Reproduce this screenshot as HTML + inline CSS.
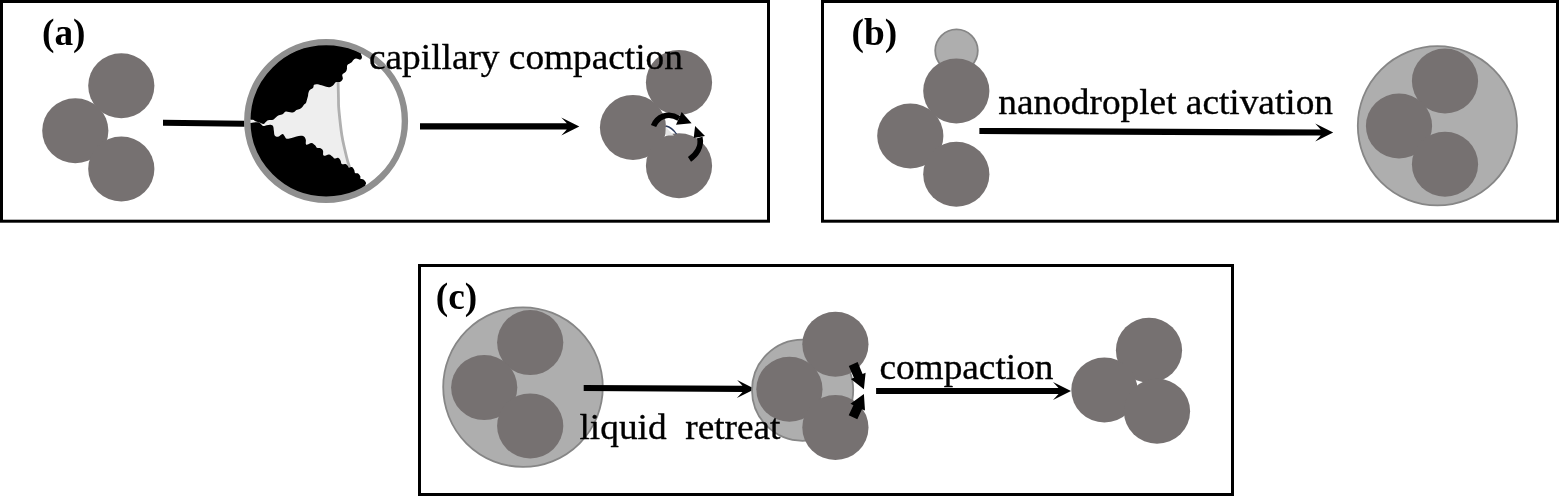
<!DOCTYPE html>
<html><head><meta charset="utf-8"><title>figure</title>
<style>
html,body{margin:0;padding:0;background:#fff;}
body{width:1559px;height:496px;overflow:hidden;font-family:"Liberation Serif",serif;}
svg{display:block;will-change:transform;}
text{font-family:"Liberation Serif",serif;font-size:37.33px;fill:#000;}
.b{font-weight:bold;}
.n text{stroke:#000;stroke-width:0.35px;}
</style></head><body>
<svg width="1559" height="496" viewBox="0 0 1559 496">
<rect width="1559" height="496" fill="#fff"/>
<!-- panel frames -->
<g fill="none" stroke="#000" stroke-width="3">
<rect x="1.5" y="1.5" width="767" height="219.7"/>
<rect x="822.5" y="1.5" width="735" height="219.7"/>
<rect x="419.5" y="265.5" width="813" height="229"/>
</g>

<!-- ===== panel a ===== -->
<g fill="#767171"><ellipse cx="121.3" cy="85.7" rx="33.1" ry="32.5"/><ellipse cx="75.3" cy="130.7" rx="33.1" ry="32.5"/><ellipse cx="121.3" cy="169.0" rx="33.1" ry="32.5"/></g>
<polygon points="163,119.7 244.5,120.8 244.5,126.8 163,125.7" fill="#000"/>
<defs><clipPath id="mag"><circle cx="326.1" cy="120.9" r="76.6"/></clipPath></defs>
<g clip-path="url(#mag)">
<rect x="230" y="20" width="200" height="200" fill="#fff"/>
<path d="M338.0,79.0 C338.0,79.5 338.0,78.2 338.1,82.0 C338.2,85.8 338.4,95.0 338.5,100.0 C338.6,105.0 338.3,103.7 338.9,110.0 C339.5,116.3 340.7,127.9 341.8,135.0 C342.9,142.1 343.7,144.7 344.8,149.5 C345.9,154.3 347.0,158.8 347.8,161.6 C348.6,164.4 348.6,164.0 349.0,165.3 C349.4,166.6 349.8,168.3 350.0,169.0 L352,215 L230,215 L230,30 L338,30 Z" fill="#eeeeee"/>
<path d="M338.0,79.0 C338.0,79.5 338.0,78.2 338.1,82.0 C338.2,85.8 338.4,95.0 338.5,100.0 C338.6,105.0 338.3,103.7 338.9,110.0 C339.5,116.3 340.7,127.9 341.8,135.0 C342.9,142.1 343.7,144.7 344.8,149.5 C345.9,154.3 347.0,158.8 347.8,161.6 C348.6,164.4 348.6,164.0 349.0,165.3 C349.4,166.6 349.8,168.3 350.0,169.0" fill="none" stroke="#b0b0b0" stroke-width="2.8"/>
<path d="M246.0,119.3 C247.2,119.4 251.3,119.5 252.9,119.8 C254.5,120.1 253.8,120.5 254.9,121.0 C256.0,121.5 257.5,121.8 259.0,122.3 C260.5,122.8 262.2,124.0 263.4,123.9 C264.6,123.8 264.9,122.6 265.8,121.9 C266.7,121.2 266.9,120.6 268.2,120.2 C269.5,119.8 271.8,120.2 273.1,119.8 C274.4,119.4 274.6,118.5 275.5,117.8 C276.4,117.1 276.7,116.4 277.9,115.8 C279.1,115.2 280.8,115.1 281.9,114.6 C283.0,114.1 283.3,113.5 284.0,113.0 C284.7,112.5 284.6,111.7 286.0,111.6 C287.4,111.5 290.0,112.6 291.6,112.6 C293.2,112.6 293.9,111.9 294.8,111.4 C295.7,110.9 295.6,110.4 296.5,110.0 C297.4,109.6 298.7,109.5 299.7,109.0 C300.7,108.5 301.4,108.0 302.1,107.3 C302.8,106.6 303.1,105.6 303.7,104.9 C304.3,104.2 305.1,104.1 305.7,103.3 C306.3,102.5 306.4,101.6 306.8,100.3 C307.2,99.0 307.7,97.2 308.0,96.0 C308.3,94.8 308.0,94.5 308.3,93.5 C308.6,92.5 308.7,91.2 309.6,90.2 C310.5,89.2 312.3,88.8 313.1,87.8 C313.9,86.8 313.3,85.4 314.1,84.8 C314.9,84.2 316.0,84.1 317.6,84.3 C319.2,84.5 321.1,85.3 323.2,85.8 C325.3,86.3 327.4,87.4 329.2,87.3 C331.0,87.2 332.0,86.2 333.2,85.3 C334.4,84.4 334.5,82.8 335.8,82.2 C337.1,81.6 339.0,82.3 340.3,81.7 C341.6,81.1 342.4,80.0 342.8,78.7 C343.2,77.4 341.8,76.0 342.3,74.7 C342.8,73.4 345.0,72.7 345.8,71.7 C346.6,70.7 346.6,70.3 346.9,69.1 C347.2,67.9 346.6,66.3 347.4,65.1 C348.2,63.9 350.3,63.5 351.4,62.6 C352.5,61.7 352.6,60.8 353.4,60.1 C354.2,59.4 354.6,58.7 355.9,58.6 C357.2,58.5 359.4,59.9 360.5,59.6 C361.6,59.3 361.9,58.3 362.0,57.1 C362.1,55.9 360.6,54.6 361.0,53.0 C361.4,51.4 363.5,48.9 364.0,48.0 L364,20 L230,20 L230,119.3 Z" fill="#000"/>
<path d="M246.0,123.6 C246.9,123.5 249.1,123.3 250.9,123.1 C252.7,122.9 254.6,122.4 256.1,122.3 C257.6,122.2 258.2,122.0 259.4,122.6 C260.6,123.2 261.7,125.4 263.0,125.9 C264.3,126.4 265.2,125.5 266.6,125.3 C268.0,125.1 269.4,124.5 270.6,124.7 C271.8,124.9 272.5,125.1 273.1,126.3 C273.7,127.5 273.6,129.4 273.9,131.1 C274.2,132.8 274.0,134.6 274.7,135.6 C275.4,136.6 276.7,136.9 277.9,136.8 C279.1,136.7 280.2,135.3 281.1,134.8 C282.0,134.3 282.4,133.9 283.1,134.2 C283.8,134.5 284.1,135.6 284.8,136.4 C285.5,137.2 285.6,138.5 286.8,138.8 C288.0,139.1 289.9,138.4 291.6,138.0 C293.3,137.6 294.8,136.8 296.5,136.4 C298.2,136.0 299.9,135.7 301.3,135.8 C302.7,135.9 303.4,136.1 304.2,136.8 C305.0,137.5 305.4,138.4 305.8,139.8 C306.2,141.2 305.2,144.1 306.2,144.7 C307.2,145.3 309.9,142.8 311.5,142.9 C313.1,143.0 314.1,144.4 315.1,145.3 C316.1,146.2 315.9,147.2 316.9,147.7 C317.9,148.2 319.5,147.8 320.6,148.3 C321.7,148.8 322.5,149.4 323.0,150.7 C323.5,152.0 322.5,154.9 323.6,155.6 C324.7,156.3 327.4,154.2 329.0,154.4 C330.6,154.6 331.7,156.0 332.7,156.8 C333.7,157.6 333.5,158.4 334.5,158.6 C335.5,158.8 337.0,157.5 338.1,157.8 C339.2,158.1 339.8,159.3 340.5,160.4 C341.2,161.5 340.9,163.4 341.8,164.0 C342.7,164.6 344.3,163.7 345.4,164.0 C346.5,164.3 347.2,165.2 347.8,165.9 C348.4,166.6 348.2,167.5 349.0,167.7 C349.8,167.9 351.1,166.7 352.0,167.1 C352.9,167.5 353.6,169.0 354.2,170.1 C354.8,171.2 354.4,172.5 355.1,173.1 C355.8,173.7 357.2,172.9 358.1,173.5 C359.0,174.1 359.9,175.2 360.3,176.2 C360.7,177.2 359.9,178.2 360.5,178.8 C361.1,179.4 362.5,178.8 363.5,179.5 C364.5,180.2 365.7,181.7 366.0,182.8 C366.3,183.9 365.0,184.5 365.4,185.8 C365.8,187.1 367.5,189.2 368.0,190.0 L368,220 L230,220 L230,123.6 Z" fill="#000"/>
</g>
<circle cx="326.1" cy="120.9" r="78.8" fill="none" stroke="#8f8f8f" stroke-width="6.4"/>
<g fill="#000"><polygon points="420.0,129.5 566.8,129.5 561.3,135.4 579.3,126.4 561.3,117.4 566.8,123.3 420.0,123.3"/></g>
<g fill="#767171"><ellipse cx="679.0" cy="82.4" rx="33.1" ry="32.5"/><ellipse cx="633.0" cy="127.4" rx="33.1" ry="32.5"/><ellipse cx="679.0" cy="165.7" rx="33.1" ry="32.5"/></g>
<!-- small gap + curved arrows -->
<path d="M665.5,127 L674,135.5 L666,135.5 Z" fill="#e4e4e4"/>
<path d="M666,126 Q672,127.5 676.5,134" fill="none" stroke="#2b3a5c" stroke-width="1.3"/>
<path d="M653.5,126.1 C657,117 668,111.5 679,118.4" fill="none" stroke="#000" stroke-width="5.6"/>
<polygon points="681.7,112 676,124.7 691.6,123.3" fill="#000"/>
<path d="M689.5,159.3 C696,155 702,147 699.8,137.5" fill="none" stroke="#000" stroke-width="5.6"/>
<polygon points="693.7,138.1 705,136 695.1,126.1" fill="#000"/>

<!-- ===== panel b ===== -->
<circle cx="956.5" cy="50.6" r="21.3" fill="#aeaeae" stroke="#868686" stroke-width="1.8"/>
<g fill="#767171"><ellipse cx="956.3" cy="91.0" rx="33.1" ry="32.5"/><ellipse cx="910.3" cy="136.0" rx="33.1" ry="32.5"/><ellipse cx="956.3" cy="174.3" rx="33.1" ry="32.5"/></g>
<g fill="#000"><polygon points="979.4,134.1 1320.7,135.6 1315.2,141.5 1333.2,132.6 1315.2,123.5 1320.7,129.4 979.4,127.9"/></g>
<circle cx="1437.4" cy="125.8" r="79.6" fill="#aeaeae" stroke="#868686" stroke-width="1.8"/>
<g fill="#767171"><ellipse cx="1445.0" cy="81.0" rx="33.1" ry="32.5"/><ellipse cx="1399.0" cy="126.0" rx="33.1" ry="32.5"/><ellipse cx="1445.0" cy="164.3" rx="33.1" ry="32.5"/></g>

<!-- ===== panel c ===== -->
<circle cx="523" cy="387.1" r="79.8" fill="#aeaeae" stroke="#868686" stroke-width="1.8"/>
<g fill="#767171"><ellipse cx="530.2" cy="342.6" rx="33.1" ry="32.5"/><ellipse cx="484.2" cy="387.6" rx="33.1" ry="32.5"/><ellipse cx="530.2" cy="425.9" rx="33.1" ry="32.5"/></g>
<g fill="#000"><polygon points="583.7,391.1 742.5,392.0 736.9,397.9 755.0,389.0 737.1,379.9 742.5,385.8 583.7,384.9"/></g>
<circle cx="802.6" cy="390.2" r="50.6" fill="#aeaeae" stroke="#868686" stroke-width="1.8"/>
<g fill="#767171"><ellipse cx="835.4" cy="344.2" rx="33.1" ry="32.5"/><ellipse cx="789.4" cy="389.2" rx="33.1" ry="32.5"/><ellipse cx="835.4" cy="427.5" rx="33.1" ry="32.5"/></g>
<g fill="#000"><polygon points="848.8,365.9 853.9,377.8 850.9,379.1 863.9,389.3 865.6,372.8 862.6,374.1 857.6,362.1"/><polygon points="857.3,419.3 862.0,409.2 865.0,410.6 863.9,394.1 850.5,403.8 853.4,405.2 848.7,415.3"/></g>
<g fill="#000"><polygon points="876.1,394.1 1058.5,394.1 1053.0,400.0 1071.0,391.0 1053.0,382.0 1058.5,387.9 876.1,387.9"/></g>
<g fill="#767171"><ellipse cx="1149.0" cy="350.3" rx="33.1" ry="32.5"/><ellipse cx="1104.4" cy="390.0" rx="33.1" ry="32.5"/><ellipse cx="1157.0" cy="411.3" rx="33.1" ry="32.5"/></g>

<!-- ===== text ===== -->
<g class="b">
<text x="42" y="45">(a)</text>
<text x="851.5" y="44.6">(b)</text>
<text x="435.8" y="308.6">(c)</text>
</g>
<g class="n">
<text transform="translate(369,69.1) scale(1,0.95)">capillary compaction</text>
<text transform="translate(998.3,114.2) scale(1,0.95)">nanodroplet activation</text>
<text transform="translate(579.5,438.5) scale(1,0.95)" xml:space="preserve">liquid  retreat</text>
<text transform="translate(879.4,379.4) scale(1,0.95)">compaction</text>
</g>
</svg>
</body></html>
